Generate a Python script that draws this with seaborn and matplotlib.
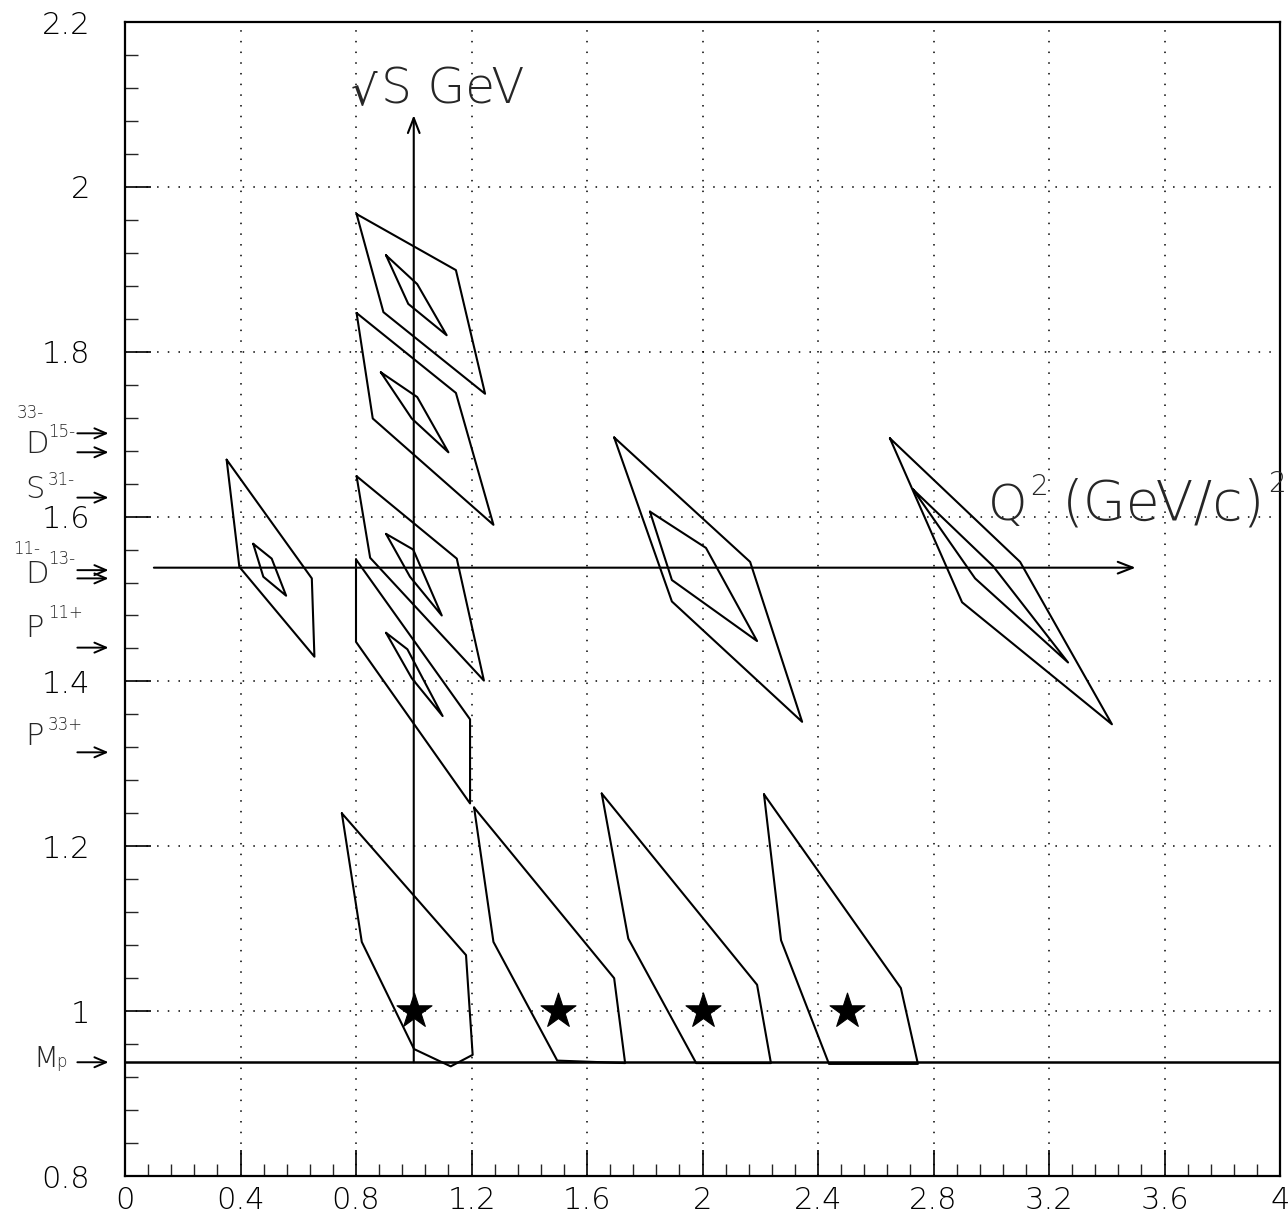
import numpy as np
import pandas as pd
import matplotlib
matplotlib.use("Agg")
import matplotlib.pyplot as plt
import seaborn as sns

# ---- kinematic regions: Q^2 (GeV/c)^2 and W = sqrt(s) (GeV) of each outline ----
left_outer_q2 = [0.352, 0.647, 0.656, 0.396]
left_outer_w = [1.669, 1.525, 1.430, 1.539]
left_inner_q2 = [0.444, 0.508, 0.558, 0.479]
left_inner_w = [1.567, 1.549, 1.504, 1.527]

a_outer_q2 = [0.802, 1.146, 1.247, 0.895]
a_outer_w = [1.967, 1.899, 1.749, 1.848]
a_inner_q2 = [0.904, 1.012, 1.114, 0.981]
a_inner_w = [1.917, 1.882, 1.820, 1.858]

b_outer_q2 = [0.802, 1.146, 1.276, 0.858]
b_outer_w = [1.847, 1.750, 1.590, 1.719]
b_inner_q2 = [0.886, 1.012, 1.120, 0.993]
b_inner_w = [1.775, 1.745, 1.678, 1.719]

c_outer_q2 = [0.802, 1.149, 1.243, 0.849]
c_outer_w = [1.649, 1.549, 1.401, 1.550]
c_inner_q2 = [0.904, 0.998, 1.097, 0.987]
c_inner_w = [1.579, 1.560, 1.480, 1.527]

d_outer_q2 = [0.800, 1.195, 1.195, 0.800]
d_outer_w = [1.548, 1.354, 1.252, 1.448]
d_inner_q2 = [0.904, 0.978, 1.100, 0.993]
d_inner_w = [1.459, 1.439, 1.358, 1.404]

mid_outer_q2 = [1.694, 2.165, 2.345, 1.894]
mid_outer_w = [1.696, 1.545, 1.351, 1.497]
mid_inner_q2 = [1.818, 2.012, 2.189, 1.894]
mid_inner_w = [1.606, 1.562, 1.449, 1.523]

right_outer_q2 = [2.649, 3.100, 3.418, 2.899]
right_outer_w = [1.695, 1.545, 1.348, 1.496]
right_inner_q2 = [2.729, 3.006, 3.266, 2.944]
right_inner_w = [1.633, 1.540, 1.423, 1.525]

low1_q2 = [0.751, 1.181, 1.204, 1.128, 1.001, 0.820]
low1_w = [1.240, 1.068, 0.947, 0.933, 0.954, 1.084]
low2_q2 = [1.209, 1.694, 1.732, 1.497, 1.276]
low2_w = [1.247, 1.040, 0.937, 0.940, 1.084]
low3_q2 = [1.651, 2.189, 2.237, 1.978, 1.743]
low3_w = [1.264, 1.032, 0.937, 0.937, 1.088]
low4_q2 = [2.213, 2.687, 2.746, 2.438, 2.272]
low4_w = [1.263, 1.028, 0.936, 0.936, 1.086]

# kinematic points (stars)
star_q2 = [1.0, 1.5, 2.0, 2.5]
star_w = [1.0, 1.0, 1.0, 1.0]

# proton mass and resonance masses marked on the W axis (GeV)
m_p = 0.938
res_w = [1.701, 1.678, 1.623, 1.535, 1.525, 1.441, 1.314]

# axis arrows
w_axis_q2 = 1.0
w_axis_top = 2.087
q2_axis_w = 1.538
q2_axis_start = 0.10
q2_axis_end = 3.50

x_ticks = [0, 0.4, 0.8, 1.2, 1.6, 2.0, 2.4, 2.8, 3.2, 3.6, 4.0]
x_labels = ["0", "0.4", "0.8", "1.2", "1.6", "2", "2.4", "2.8", "3.2", "3.6", "4"]
y_ticks = [0.8, 1.0, 1.2, 1.4, 1.6, 1.8, 2.0, 2.2]
y_labels = ["0.8", "1", "1.2", "1.4", "1.6", "1.8", "2", "2.2"]

regions = [
    (left_outer_q2, left_outer_w), (left_inner_q2, left_inner_w),
    (a_outer_q2, a_outer_w), (a_inner_q2, a_inner_w),
    (b_outer_q2, b_outer_w), (b_inner_q2, b_inner_w),
    (c_outer_q2, c_outer_w), (c_inner_q2, c_inner_w),
    (d_outer_q2, d_outer_w), (d_inner_q2, d_inner_w),
    (mid_outer_q2, mid_outer_w), (mid_inner_q2, mid_inner_w),
    (right_outer_q2, right_outer_w), (right_inner_q2, right_inner_w),
    (low1_q2, low1_w), (low2_q2, low2_w), (low3_q2, low3_w), (low4_q2, low4_w),
]

rows = []
for i, (qs, ws) in enumerate(regions):
    for k in list(range(len(qs))) + [0]:
        rows.append({"region": i, "order": len(rows), "q2": qs[k], "w": ws[k]})
outlines = pd.DataFrame(rows)

sns.set_theme(style="white")
plt.rcParams["font.family"] = ["DejaVu Sans"]
plt.rcParams["font.weight"] = "light"

fig = plt.figure(figsize=(12.88, 12.18), dpi=100)
ax = fig.add_axes([125 / 1288, 1 - 1176 / 1218, (1280 - 125) / 1288, (1176 - 22) / 1218])

sns.lineplot(data=outlines, x="q2", y="w", units="region", estimator=None,
             sort=False, color="black", lw=1.5, ax=ax, legend=False)

# proton mass line
sns.lineplot(x=[0.0, 4.0], y=[m_p, m_p], color="black", lw=1.8, ax=ax)

sns.scatterplot(x=star_q2, y=star_w, marker="*", s=700, color="black",
                edgecolor="black", linewidth=0.8, ax=ax, zorder=5)

arrow_kw = dict(arrowstyle="->,head_length=0.9,head_width=0.35", lw=1.5, color="black",
                shrinkA=0, shrinkB=0)
ax.annotate("", xy=(w_axis_q2, w_axis_top), xytext=(w_axis_q2, m_p), arrowprops=arrow_kw)
ax.annotate("", xy=(q2_axis_end, q2_axis_w), xytext=(q2_axis_start, q2_axis_w), arrowprops=arrow_kw)

# axis titles drawn inside the frame
ax.text(0.783, 2.101, "\u221a", fontsize=30, va="baseline", ha="left",
        family=["DejaVu Sans"], fontweight="normal")
ax.text(0.885, 2.101, "S GeV", fontsize=35, va="baseline", ha="left")
ax.text(2.99, 1.596, "Q", fontsize=36, va="baseline", ha="left")
ax.text(3.135, 1.626, "2", fontsize=20, va="baseline", ha="left")
ax.text(3.245, 1.596, "(GeV/c)", fontsize=40, va="baseline", ha="left")
ax.text(3.96, 1.630, "2", fontsize=20, va="baseline", ha="left", clip_on=False)

# resonance markers on the W axis
small_arrow = dict(arrowstyle="->,head_length=0.7,head_width=0.3", lw=1.4, color="black",
                   shrinkA=0, shrinkB=0)
for w in res_w + [m_p]:
    ax.annotate("", xy=(-0.057, w), xytext=(-0.165, w), arrowprops=small_arrow,
                annotation_clip=False)

big = 22
sup = 12
lbls = [
    (-0.374, 1.719, "33-", sup), (-0.346, 1.677, "D", big), (-0.267, 1.696, "15-", sup),
    (-0.346, 1.622, "S", big), (-0.267, 1.638, "31-", sup),
    (-0.388, 1.555, "11-", sup), (-0.346, 1.519, "D", big), (-0.267, 1.543, "13-", sup),
    (-0.346, 1.454, "P", big), (-0.267, 1.477, "11+", sup),
    (-0.346, 1.323, "P", big), (-0.267, 1.341, "33+", sup),
    (-0.318, 0.932, "M", 21), (-0.240, 0.932, "p", 12),
]
for x, y, s, fs in lbls:
    ax.text(x, y, s, fontsize=fs, va="baseline", ha="left", clip_on=False)

ax.set_xlim(0, 4)
ax.set_ylim(0.8, 2.2)
ax.set_xticks(x_ticks)
ax.set_xticklabels(x_labels)
ax.set_yticks(y_ticks)
ax.set_yticklabels(y_labels)
ax.set_xticks(np.arange(0, 4.001, 0.08), minor=True)
ax.set_yticks(np.arange(0.8, 2.2001, 0.04), minor=True)
ax.tick_params(which="major", direction="in", length=19, width=1.2, labelsize=22,
               colors="black", left=True, bottom=True)
ax.tick_params(which="minor", direction="in", length=9, width=1.0, left=True, bottom=True)
ax.tick_params(axis="y", which="major", pad=25)
ax.tick_params(axis="x", which="major", pad=7)
ax.set_xlabel("")
ax.set_ylabel("")
ax.grid(True, which="major", color="black", linestyle=(0, (1, 6)), lw=1.1)
for sp in ax.spines.values():
    sp.set_color("black")
    sp.set_linewidth(1.6)

fig.savefig("out.png", dpi=100, facecolor="white")
